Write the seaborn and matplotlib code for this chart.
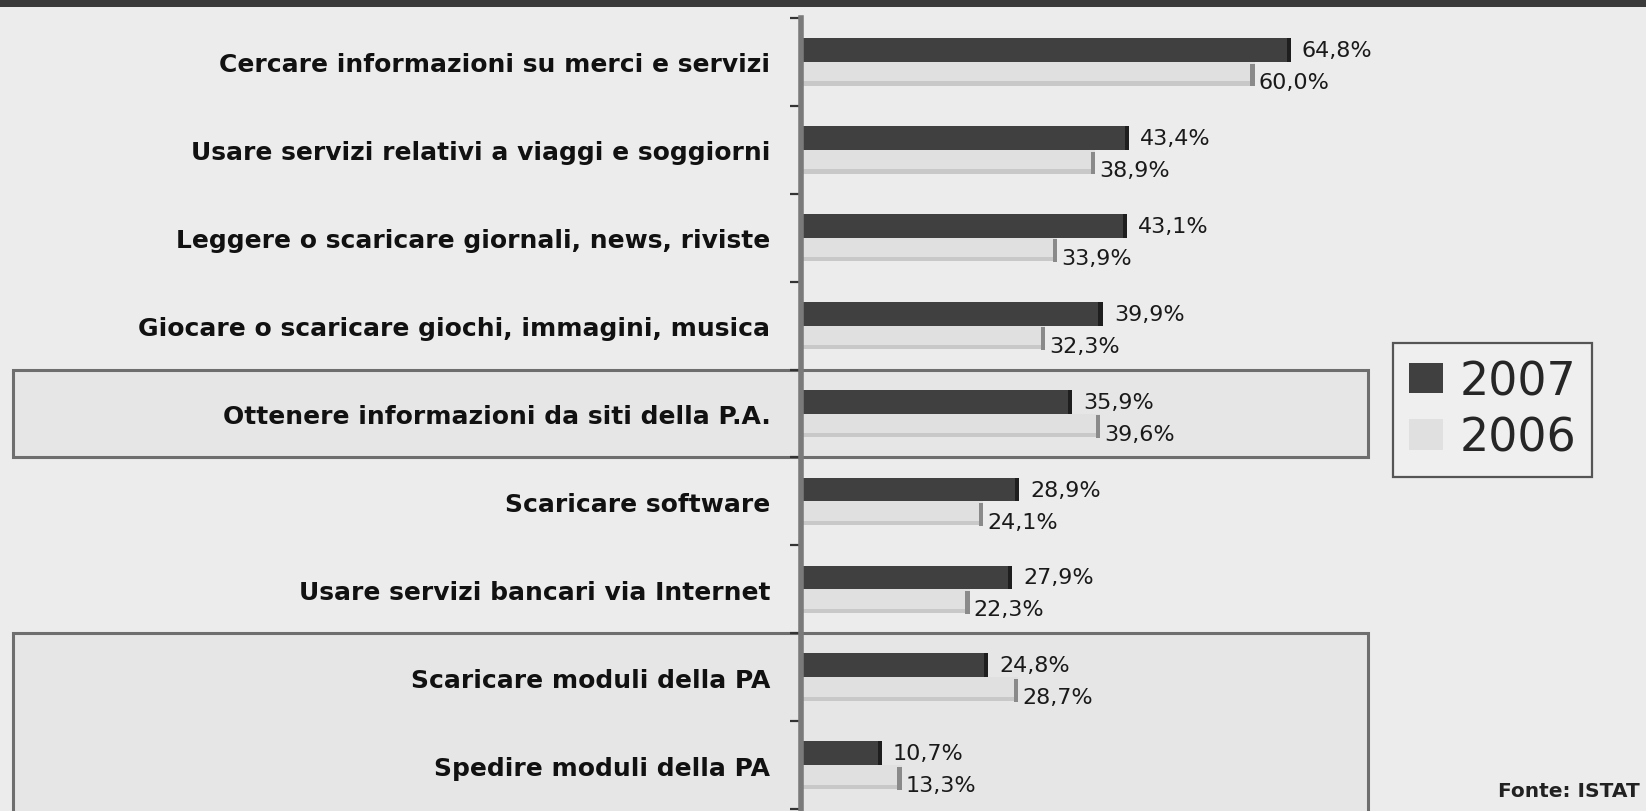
import numpy as np
import pandas as pd
import matplotlib
matplotlib.use("Agg")
import matplotlib.pyplot as plt
import matplotlib.transforms as mtransforms
from matplotlib.patches import Rectangle
import seaborn as sns

categories = [
    "Cercare informazioni su merci e servizi",
    "Usare servizi relativi a viaggi e soggiorni",
    "Leggere o scaricare giornali, news, riviste",
    "Giocare o scaricare giochi, immagini, musica",
    "Ottenere informazioni da siti della P.A.",
    "Scaricare software",
    "Usare servizi bancari via Internet",
    "Scaricare moduli della PA",
    "Spedire moduli della PA",
]
values_2007 = [64.8, 43.4, 43.1, 39.9, 35.9, 28.9, 27.9, 24.8, 10.7]
values_2006 = [60.0, 38.9, 33.9, 32.3, 39.6, 24.1, 22.3, 28.7, 13.3]
years = ["2007", "2006"]
highlight_groups = [[4], [7, 8]]
source_text = "Fonte: ISTAT"

df = pd.DataFrame({
    "categoria": categories * 2,
    "anno": [years[0]] * len(categories) + [years[1]] * len(categories),
    "valore": values_2007 + values_2006,
})

sns.set_theme(style="white")
plt.rcParams["font.family"] = ["DejaVu Sans"]

W, H = 1646, 812
fig = plt.figure(figsize=(W / 100, H / 100), dpi=100, facecolor="#ececec")
ax = fig.add_axes([801 / W, 2 / H, 756 / W, 791 / H])
ax.set_facecolor("none")
ax.set_axisbelow(False)

dark, light = "#404040", "#e0e0e0"
sns.barplot(data=df, y="categoria", x="valore", hue="anno", hue_order=years,
            order=categories, palette=[dark, light], width=0.54, orient="h",
            ax=ax, saturation=1, edgecolor="none", zorder=3, legend=True)

ax.set_xlim(0, 100)
ax.set_ylim(len(categories) - 0.5, -0.5)
ax.set_xlabel("")
ax.set_ylabel("")
ax.xaxis.set_visible(False)
for s in ["top", "right", "bottom"]:
    ax.spines[s].set_visible(False)
ax.spines["left"].set_color("#7a7a7a")
ax.spines["left"].set_linewidth(4)
ax.spines["left"].set_zorder(5)

ax.tick_params(axis="y", which="major", length=0, pad=22, labelsize=18)
for lab in ax.get_yticklabels():
    lab.set_fontweight("bold")
    lab.set_color("#111111")
ax.set_yticks(np.arange(-0.5, len(categories), 1), minor=True)
ax.tick_params(axis="y", which="minor", length=8, width=1.6, color="#333333", left=True)

# highlight boxes spanning label area + plot area
trans = mtransforms.blended_transform_factory(fig.transFigure, ax.transData)
for grp in highlight_groups:
    y0 = min(grp) - 0.5
    y1 = max(grp) + 0.5
    if max(grp) == len(categories) - 1:
        y1 += 0.3
    r = Rectangle((13 / W, y0), (1368 - 13) / W, y1 - y0, transform=trans,
                  facecolor="#e6e6e6", edgecolor="#6e6e6e", linewidth=2.2,
                  clip_on=False, zorder=0.2)
    ax.add_patch(r)

# end caps and value labels
for ci, (cont, vals) in enumerate(zip(ax.containers, [values_2007, values_2006])):
    cap_col = "#1e1e1e" if ci == 0 else "#8a8a8a"
    for bar, v in zip(cont, vals):
        y = bar.get_y()
        h = bar.get_height()
        x_end = bar.get_x() + bar.get_width()
        ax.add_patch(Rectangle((x_end - 0.55, y + (0 if ci == 0 else 0.02)), 0.55,
                               h * (1 if ci == 0 else 0.96), facecolor=cap_col,
                               edgecolor="none", zorder=4))
        if ci == 1:
            ax.add_patch(Rectangle((bar.get_x(), y + h * 0.82), bar.get_width() - 0.55,
                                   h * 0.18, facecolor="#c8c8c8", edgecolor="none", zorder=3.5))
        label = f"{v:.1f}%".replace(".", ",")
        dy = 0 if ci == 0 else 6
        dx = 8 if ci == 0 else 3
        ax.annotate(label, (x_end, y + h / 2), xytext=(dx, -dy), textcoords="offset points",
                    ha="left", va="center", fontsize=16, color="#1a1a1a", zorder=6)

# legend
handles, labels = ax.get_legend_handles_labels()
leg = ax.legend(handles, labels, loc="center left",
                bbox_to_anchor=(1393 / W, 1 - 411 / H), bbox_transform=fig.transFigure,
                fontsize=33, frameon=True, fancybox=False, framealpha=1,
                facecolor="#efefef", edgecolor="#555555", handlelength=0.75,
                handleheight=0.65, handletextpad=0.35, labelspacing=0.25,
                borderpad=0.35, borderaxespad=0)
leg.get_frame().set_linewidth(1.6)
leg.set_zorder(7)

# top dark band
fig.patches.append(Rectangle((0, 1 - 8 / H), 1, 8 / H, transform=fig.transFigure,
                             facecolor="#3a3a3a", edgecolor="none", zorder=0))

fig.text(1640 / W, 1 - 797 / H, source_text, ha="right", va="baseline",
         fontsize=14.5, fontweight="bold", color="#222222")

fig.savefig("out.png", dpi=100, facecolor=fig.get_facecolor())
